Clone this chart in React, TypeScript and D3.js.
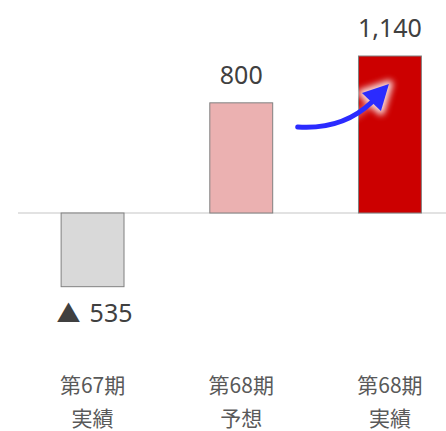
import React from 'react';
import * as d3 from 'd3';

const categories = ['第67期\n実績', '第68期\n予想', '第68期\n実績'];
const values = [-535, 800, 1140];
const valueLabels = ['535', '800', '1,140'];
const fills = ['#d9d9d9', '#ebb1b1', '#cc0000'];

const W = 446;
const H = 431;

const App = () => {
  const x = d3.scaleBand().domain(categories).range([18, 464.5]).paddingInner(0.577).paddingOuter(0.29);
  const y = d3.scaleLinear().domain([0, 1140]).range([213, 56]);
  const bw = x.bandwidth();

  // arrow from bar 2 toward bar 3
  const cx2 = (x(categories[1]) as number) + bw;
  const cx3 = (x(categories[2]) as number) + bw / 2;
  const p0: [number, number] = [cx2 + 25, 127];
  const p1: [number, number] = [cx3 - 18, 102];
  const tip: [number, number] = [cx3 - 1, 84];
  const path = d3.path();
  path.moveTo(p0[0], p0[1]);
  path.quadraticCurveTo(p0[0] + 45, p0[1] + 3, p1[0], p1[1]);
  const head = d3.line()([
    tip,
    [tip[0] - 27, tip[1] + 9],
    [tip[0] - 8, tip[1] + 27],
  ]) + 'Z';

  const numFont = '"Noto Sans", sans-serif';
  const font = '"Noto Sans CJK JP", "Noto Sans", sans-serif';

  return (
    <svg width={W} height={H} style={{ position: 'absolute', left: 0, top: 0 }}>
      <defs>
        <filter id="glow" x="-50%" y="-50%" width="200%" height="200%">
          <feGaussianBlur stdDeviation="3" />
        </filter>
      </defs>
      <line x1={18} x2={W} y1={y(0)} y2={y(0)} stroke="#d9d9d9" strokeWidth={1.5} />
      {values.map((v, i) => (
        <rect
          key={i}
          x={x(categories[i])}
          y={Math.min(y(0), y(v))}
          width={bw}
          height={Math.abs(y(v) - y(0))}
          fill={fills[i]}
          stroke="#808080"
          strokeWidth={1}
        />
      ))}
      {values.map((v, i) => (
        <text
          key={'v' + i}
          x={(x(categories[i]) as number) + bw / 2 + (v < 0 ? 2 : 0)}
          y={v < 0 ? y(v) + 35 : y(v) - 19}
          textAnchor="middle"
          fontFamily={numFont}
          fontSize={25}
          fill="#404040"
        >
          {v < 0 && (
            <tspan fontFamily={font} fontSize={24}>
              ▲
            </tspan>
          )}
          <tspan dx={v < 0 ? 9 : 0}>{valueLabels[i]}</tspan>
        </text>
      ))}
      {categories.map((c, i) =>
        c.split('\n').map((line, j) => (
          <text
            key={c + j}
            x={(x(c) as number) + bw / 2}
            y={393 + j * 33}
            textAnchor="middle"
            fontFamily={font}
            fontSize={21}
            fill="#595959"
          >
            {line}
          </text>
        ))
      )}
      <g filter="url(#glow)" opacity={0.85}>
        <path d={head} fill="#ffffff" stroke="#ffffff" strokeWidth={8} strokeLinejoin="round" />
        <path d={path.toString()} fill="none" stroke="#ffffff" strokeWidth={8} opacity={0.4} />
      </g>
      <path d={path.toString()} fill="none" stroke="#2b2bff" strokeWidth={5} strokeLinecap="round" />
      <path d={head} fill="#2b2bff" />
    </svg>
  );
};

export default App;
